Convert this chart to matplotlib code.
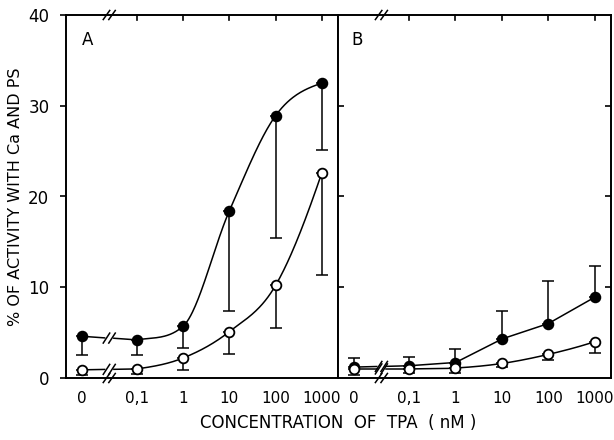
import numpy as np
import matplotlib
matplotlib.use("Agg")
import matplotlib.pyplot as plt

# ── data ──────────────────────────────────────────────────────────────────────

conc_labels = ["0", "0,1", "1", "10", "100", "1000"]
# x positions: log10 of concentration, "0" placed before the axis break
xpos = np.array([-2.19, -1, 0, 1, 2, 3])

# panel A
a_filled = [4.6, 4.2, 5.7, 18.4, 28.9, 32.5]
a_filled_low = [2.5, 2.5, 3.3, 7.4, 15.4, 25.1]
a_open = [0.9, 1.0, 2.2, 5.1, 10.2, 22.6]
a_open_low = [0.3, 0.4, 0.9, 2.6, 5.5, 11.3]

# panel B
b_filled = [1.2, 1.35, 1.7, 4.3, 6.0, 8.9]
b_filled_high = [2.2, 2.35, 3.2, 7.4, 10.7, 12.3]
b_open = [1.0, 1.0, 1.1, 1.6, 2.6, 4.0]
b_open_low = [0.3, 0.5, 0.6, 1.2, 2.0, 2.8]


def smooth_curve(x, y, xs):
    # cubic Hermite curve through the points, Catmull-Rom slopes limited
    # so the drawn curve does not overshoot
    x = np.asarray(x, float); y = np.asarray(y, float)
    h = np.diff(x); d = np.diff(y) / h
    m = np.zeros_like(y)
    for k in range(1, len(y) - 1):
        if d[k - 1] * d[k] > 0:
            m[k] = np.sign(d[k]) * min((abs(d[k - 1]) + abs(d[k])) / 2,
                                       3 * min(abs(d[k - 1]), abs(d[k])))
    m[0] = d[0] * 0.6
    m[-1] = d[-1] * (1.2 if abs(d[-1]) > abs(d[-2]) else 0.5)
    i = np.clip(np.searchsorted(x, xs) - 1, 0, len(x) - 2)
    t = (xs - x[i]) / h[i]
    h00 = 2 * t**3 - 3 * t**2 + 1; h10 = t**3 - 2 * t**2 + t
    h01 = -2 * t**3 + 3 * t**2; h11 = t**3 - t**2
    return h00 * y[i] + h10 * h[i] * m[i] + h01 * y[i + 1] + h11 * h[i] * m[i + 1]


def slashes(ax, x, y, dx=0.07, dy=0.55, gap=0.12):
    for off in (-gap / 2, gap / 2):
        ax.plot([x + off - dx, x + off + dx], [y - dy, y + dy], color="black",
                lw=1.1, clip_on=False, zorder=5)


def series(ax, y, err, upper, filled, smooth=True):
    y = np.asarray(y)
    mid = (xpos[0] + xpos[1]) / 2
    # straight piece across the break
    ax.plot([xpos[0], mid - 0.1], [y[0], y[0] + (y[1] - y[0]) * 0.45], color="black", lw=1.1)
    ax.plot([mid + 0.1, xpos[1]], [y[0] + (y[1] - y[0]) * 0.55, y[1]], color="black", lw=1.1)
    slashes(ax, mid, (y[0] + y[1]) / 2)
    xs = np.linspace(xpos[1], xpos[-1], 200)
    ys = smooth_curve(xpos[1:], y[1:], xs) if smooth else np.interp(xs, xpos[1:], y[1:])
    ax.plot(xs, ys, color="black", lw=1.1)
    err = np.asarray(err)
    if upper:
        yerr = [np.zeros_like(y), err - y]
    else:
        yerr = [y - err, np.zeros_like(y)]
    ax.errorbar(xpos, y, yerr=yerr, fmt="none", ecolor="black", elinewidth=1.1,
                capsize=4, capthick=1.1, zorder=3)
    ax.plot(xpos, y, "o", ms=7, mfc="black" if filled else "white", mec="black",
            mew=1.3, zorder=4, clip_on=False)


# ── figure ────────────────────────────────────────────────────────────────────

fig = plt.figure(figsize=(6.14, 4.4), dpi=100)
axA = fig.add_axes([66 / 614, 1 - 378 / 440, 272 / 614, 363 / 440])
axB = fig.add_axes([338 / 614, 1 - 378 / 440, 273 / 614, 363 / 440])

series(axA, a_filled, a_filled_low, False, True)
series(axA, a_open, a_open_low, False, False)
series(axB, b_filled, b_filled_high, True, True, smooth=False)
series(axB, b_open, b_open_low, False, False)

for ax in (axA, axB):
    ax.set_xlim(-2.53, 3.35)
    ax.set_ylim(0, 40)
    for s in ax.spines.values():
        s.set_linewidth(1.4)
    ax.set_xticks(xpos)
    ax.set_xticklabels(conc_labels, fontsize=11)
    ax.tick_params(axis="x", length=0, pad=9)
    # top ticks pointing down
    for xp in xpos[1:]:
        ax.plot([xp, xp], [40, 39.4], color="black", lw=1.2, clip_on=False)
    mid = (xpos[0] + xpos[1]) / 2
    slashes(ax, mid, 40, dy=0.5)
    slashes(ax, mid, 0, dy=0.5)

axA.set_yticks([0, 10, 20, 30, 40])
axA.set_yticklabels(["0", "10", "20", "30", "40"], fontsize=12)
axA.tick_params(axis="y", direction="out", length=4, width=1.2, pad=8)
axB.set_yticks([10, 20, 30])
axB.tick_params(axis="y", left=True, right=True, labelleft=False,
                direction="in", length=4, width=1.2)

axA.text(0.06, 0.93, "A", transform=axA.transAxes, fontsize=12, va="center")
axB.text(0.05, 0.93, "B", transform=axB.transAxes, fontsize=12, va="center")

axA.set_ylabel("% OF ACTIVITY WITH Ca AND PS", fontsize=11.5, labelpad=4)
fig.text(338 / 614, 1 - 423 / 440, "CONCENTRATION  OF  TPA  ( nM )",
         fontsize=12, ha="center", va="center")

fig.savefig("out.png", dpi=100)
